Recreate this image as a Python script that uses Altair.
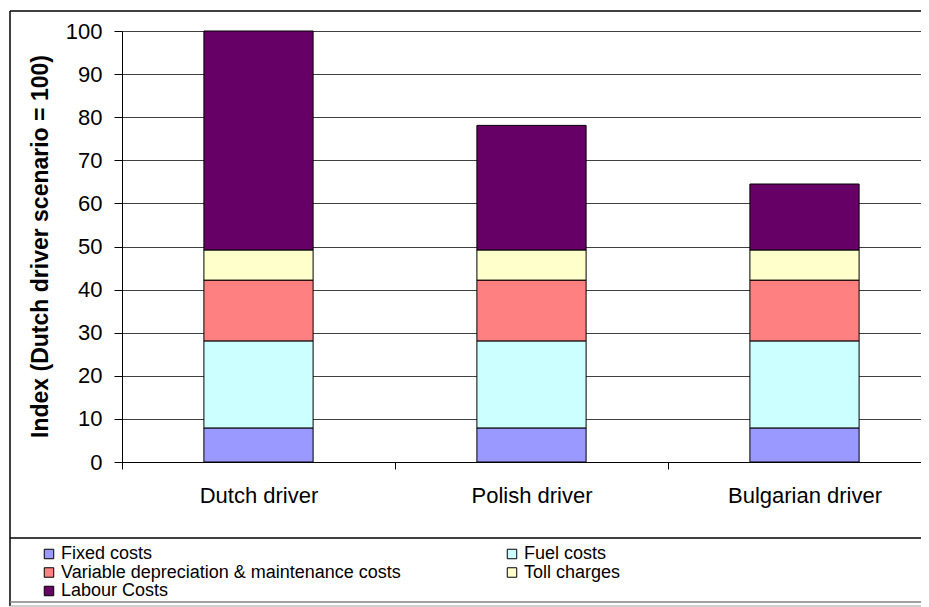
import altair as alt
import pandas as pd

drivers = ["Dutch driver", "Polish driver", "Bulgarian driver"]
components = ["Fixed costs", "Fuel costs", "Variable depreciation & maintenance costs",
              "Toll charges", "Labour Costs"]
fixed = [7.9, 7.9, 7.9]
fuel = [20.2, 20.2, 20.2]
variable = [14.1, 14.1, 14.1]
toll = [7.0, 7.0, 7.0]
labour = [50.8, 28.9, 15.3]
colors = ["#9999FF", "#CCFFFF", "#FF8080", "#FFFFCC", "#660066"]
y_ticks = [0, 10, 20, 30, 40, 50, 60, 70, 80, 90, 100]

series = [fixed, fuel, variable, toll, labour]
rows = []
for ci, (comp, vals) in enumerate(zip(components, series)):
    for d, v in zip(drivers, vals):
        rows.append({"driver": d, "component": comp, "value": v, "order": ci})
df = pd.DataFrame(rows)

FONT = "Liberation Sans, Arial, sans-serif"
W = 799

bars = alt.Chart(df).mark_bar(
    width={"band": 0.4}, stroke="black", strokeWidth=1
).encode(
    x=alt.X("driver:N", sort=drivers,
            scale=alt.Scale(paddingInner=0, paddingOuter=0, range=[0, 819]),
            axis=alt.Axis(title=None, labelAngle=0, tickBand="extent",
                          labelFontSize=22, labelPadding=16, tickSize=7,
                          tickColor="black", domainColor="black",
                          labelColor="black", labelFont=FONT, grid=False)),
    y=alt.Y("value:Q", stack="zero",
            scale=alt.Scale(domain=[0, 100], nice=False),
            axis=alt.Axis(values=y_ticks, title="Index (Dutch driver scenario = 100)",
                          titleFontSize=23, titleFont=FONT, titleFontWeight="bold",
                          titleColor="black", titleX=-82, titleY=215,
                          titleAngle=270, titleAlign="center", titleBaseline="middle",
                          labelFontSize=22, labelFont=FONT, labelColor="black",
                          labelPadding=12, tickSize=8, tickColor="black",
                          domainColor="black", gridColor="#404040", gridWidth=1)),
    color=alt.Color("component:N", sort=components,
                    scale=alt.Scale(domain=components, range=colors),
                    legend=alt.Legend(title=None, orient="none", legendX=-82, legendY=514,
                                      direction="horizontal", columns=2, gridAlign="all",
                                      columnPadding=102, rowPadding=0.5,
                                      symbolType="square", symbolSize=90,
                                      symbolStrokeColor="black", symbolStrokeWidth=1,
                                      symbolOffset=0, labelOffset=3, padding=0,
                                      labelFontSize=18, labelFont=FONT,
                                      labelColor="black", labelLimit=600)),
    order=alt.Order("order:Q", sort="ascending"),
)

one = alt.Data(values=[{"k": 1}])
frame_left = alt.Chart(one).mark_rule(color="black", strokeWidth=1.5).encode(
    x=alt.value(-112), y=alt.value(-20), y2=alt.value(575))
frame_top = alt.Chart(one).mark_rule(color="black", strokeWidth=1.5).encode(
    x=alt.value(-112), x2=alt.value(W), y=alt.value(-20))
frame_sep = alt.Chart(one).mark_rule(color="black", strokeWidth=1.5).encode(
    x=alt.value(-112), x2=alt.value(W), y=alt.value(507))
frame_bot1 = alt.Chart(one).mark_rule(color="#808080", strokeWidth=1.5).encode(
    x=alt.value(-112), x2=alt.value(W), y=alt.value(571))
frame_bot2 = alt.Chart(one).mark_rule(color="#A0A0A0", strokeWidth=1).encode(
    x=alt.value(-112), x2=alt.value(W), y=alt.value(575))

chart = alt.layer(bars, frame_left, frame_top, frame_sep, frame_bot1, frame_bot2).properties(
    width=W, height=431,
    padding={"left": 114, "top": 23, "right": 0, "bottom": 145},
    autosize=alt.AutoSizeParams(type="none"),
).configure_view(
    fill="#C0C0C0", stroke="transparent"
).configure(background="white")

chart.save("out.html", embed_options={"renderer": "svg", "actions": False})
